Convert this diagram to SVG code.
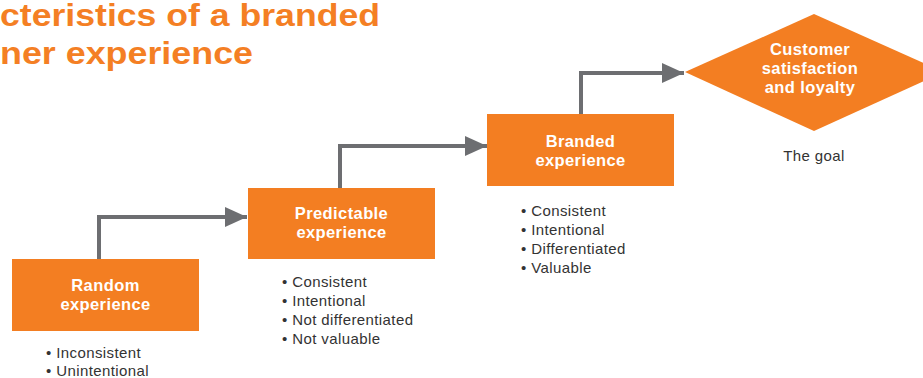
<svg xmlns="http://www.w3.org/2000/svg" width="923" height="378" viewBox="0 0 923 378">
  <defs>
    <marker id="arrow" viewBox="0 0 22 20" refX="22" refY="10" markerWidth="22" markerHeight="20" markerUnits="userSpaceOnUse" orient="auto">
      <path d="M0,0 L22,10 L0,20 z" fill="#6D6E71"/>
    </marker>
    <style>
      .box { fill: #F37E22; }
      .lbl { font-family: "Liberation Sans", Arial, sans-serif; font-weight: bold; font-size: 16.5px; letter-spacing: 0.4px; fill: #ffffff; text-anchor: middle; }
      .bul { font-family: "Liberation Sans", Arial, sans-serif; font-size: 15px; letter-spacing: 0.4px; fill: #333333; }
      .title { font-family: "Liberation Sans", Arial, sans-serif; font-weight: bold; font-size: 31px; fill: #F47F24; }
      .conn { fill: none; stroke: #6D6E71; stroke-width: 4; marker-end: url(#arrow); }
    </style>
  </defs>
  <rect width="923" height="378" fill="#ffffff"/>

  <g id="title">
    <text class="title" x="0" y="26" textLength="380" lengthAdjust="spacingAndGlyphs">cteristics of a branded</text>
    <text class="title" x="0" y="64" textLength="253" lengthAdjust="spacingAndGlyphs">ner experience</text>
  </g>

  <g id="connectors">
    <path class="conn" d="M99,259 V217 H247"/>
    <path class="conn" d="M340,188 V146 H487"/>
    <path class="conn" d="M581,114 V73 H684"/>
  </g>

  <g id="random">
    <rect class="box" x="12" y="259" width="187" height="72"/>
    <text class="lbl" x="105.5" y="291">Random</text>
    <text class="lbl" x="105.5" y="310">experience</text>
    <text class="bul" x="46" y="358">• Inconsistent</text>
    <text class="bul" x="46" y="376">• Unintentional</text>
  </g>

  <g id="predictable">
    <rect class="box" x="248" y="188" width="187" height="71"/>
    <text class="lbl" x="341.5" y="219">Predictable</text>
    <text class="lbl" x="341.5" y="238">experience</text>
    <text class="bul" x="282" y="287">• Consistent</text>
    <text class="bul" x="282" y="306">• Intentional</text>
    <text class="bul" x="282" y="325">• Not differentiated</text>
    <text class="bul" x="282" y="344">• Not valuable</text>
  </g>

  <g id="branded">
    <rect class="box" x="487" y="114" width="187" height="72"/>
    <text class="lbl" x="580.5" y="147">Branded</text>
    <text class="lbl" x="580.5" y="166">experience</text>
    <text class="bul" x="521" y="216">• Consistent</text>
    <text class="bul" x="521" y="235">• Intentional</text>
    <text class="bul" x="521" y="254">• Differentiated</text>
    <text class="bul" x="521" y="273">• Valuable</text>
  </g>

  <g id="goal">
    <polygon class="box" points="685,72 814,14 944,72 814,131"/>
    <text class="lbl" x="810" y="55">Customer</text>
    <text class="lbl" x="810" y="74">satisfaction</text>
    <text class="lbl" x="810" y="93">and loyalty</text>
    <text class="bul" x="814" y="161" text-anchor="middle">The goal</text>
  </g>
</svg>
